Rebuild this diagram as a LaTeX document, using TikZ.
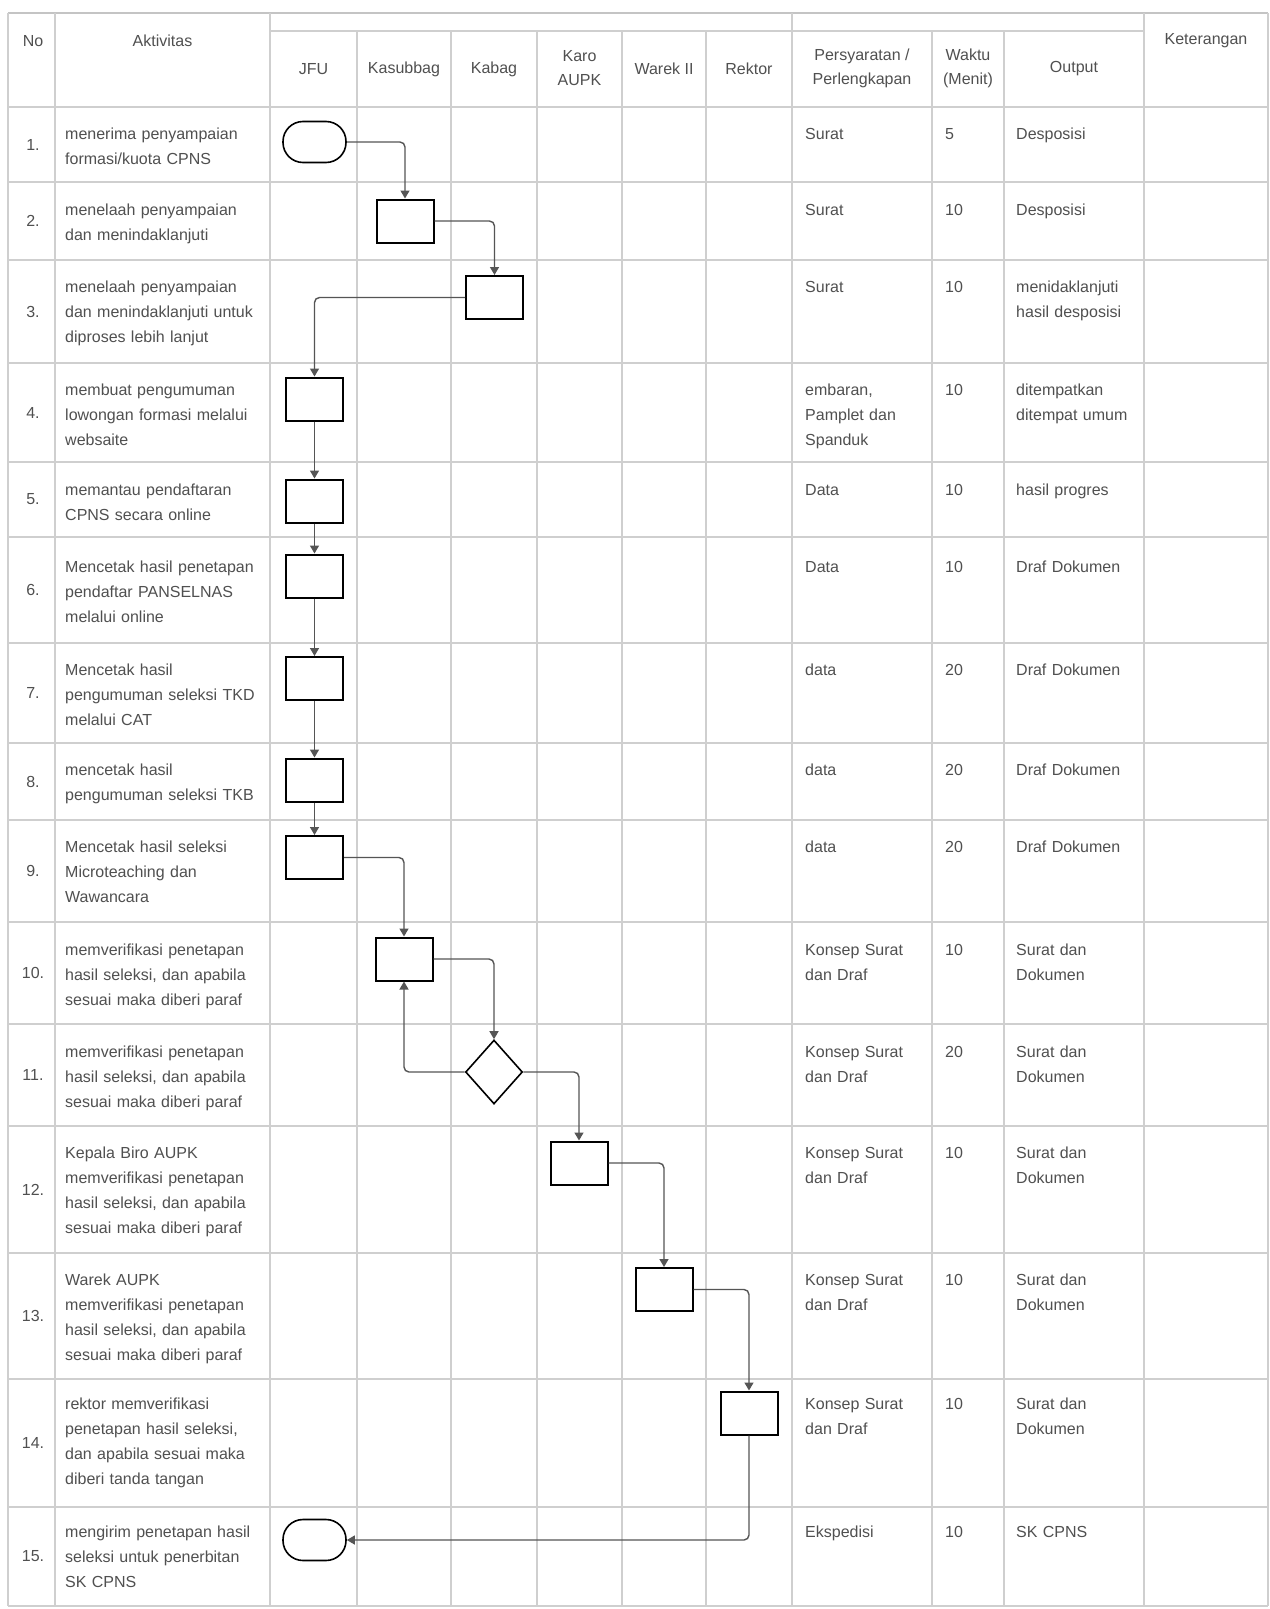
\documentclass[tikz,border=0pt]{standalone}
\usepackage{fontspec}
\setmainfont{Liberation Sans}
\usetikzlibrary{shapes.geometric,arrows.meta}
\definecolor{gridc}{HTML}{CFCFCF}
\definecolor{topc}{HTML}{C4C4C4}
\definecolor{txt}{HTML}{505050}
\definecolor{conn}{HTML}{555555}
\begin{document}
\begin{tikzpicture}[x=1pt,y=-1pt,
  grid/.style={draw=gridc,line width=1.1pt},
  body/.style={anchor=base west,inner sep=0pt,text width=300pt,align=left,font=\fontsize{16}{25}\selectfont,text=txt},
  num/.style={anchor=center,inner sep=0pt,font=\fontsize{16}{25}\selectfont,text=txt},
  head/.style={anchor=center,inner sep=0pt,align=center,font=\fontsize{16}{24}\selectfont,text=txt},
  proc/.style={draw=black,line width=2pt,minimum width=57pt,minimum height=43pt,inner sep=0pt},
  term/.style={draw=black,line width=1.6pt,rounded corners=20pt,minimum width=63pt,minimum height=41pt,inner sep=0pt},
  dec/.style={draw=black,line width=1.6pt,diamond,minimum width=57pt,minimum height=64pt,inner sep=0pt},
  flow/.style={draw=conn,line width=1.4pt,rounded corners=5pt,-{Triangle[length=8pt,width=9pt]}}
]
\fill[white] (0,0) rectangle (1269,1609);
\useasboundingbox (0,0) rectangle (1269,1609);

% ---------- grid ----------
\draw[draw=topc,line width=2.6pt] (8,13) -- (1268,13);
\draw[grid] (270,31) -- (1144,31);
\foreach \yy in {107,182,260,363,462,537,643,743,820,922,1024,1126,1253,1379,1507,1606}
  \draw[grid] (8,\yy) -- (1268,\yy);
\foreach \xx in {8,55,270,792,1144,1268}
  \draw[grid] (\xx,13) -- (\xx,1606);
\foreach \xx in {357,451,537,622,706,932,1004}
  \draw[grid] (\xx,31) -- (\xx,1606);

% ---------- header ----------
\node[head] (hNo) at (33,41) {No};
\node[head] (hAkt) at (162.5,41) {Aktivitas};
\node[head] (hJFU) at (313.5,69) {JFU};
\node[head] (hKasubbag) at (404,69) {Kasubbag};
\node[head] (hKabag) at (494,69) {Kabag};
\node[head] (hKaro) at (579.5,68) {Karo\\AUPK};
\node[head] (hWarek) at (664,69) {Warek II};
\node[head] (hRektor) at (749,69) {Rektor};
\node[head] (hPers) at (862,68) {Persyaratan /\\Perlengkapan};
\node[head] (hWaktu) at (968,68) {Waktu\\(Menit)};
\node[head] (hOut) at (1074,69) {Output};
\node[head] (hKet) at (1206,41) {Keterangan};

% ---------- numbers ----------
\node[num] (n1) at (33,144.5) {1.};
\node[num] (n2) at (33,221) {2.};
\node[num] (n3) at (33,311.5) {3.};
\node[num] (n4) at (33,412.5) {4.};
\node[num] (n5) at (33,499.5) {5.};
\node[num] (n6) at (33,590) {6.};
\node[num] (n7) at (33,693) {7.};
\node[num] (n8) at (33,781.5) {8.};
\node[num] (n9) at (33,871) {9.};
\node[num] (n10) at (33,973) {10.};
\node[num] (n11) at (33,1075) {11.};
\node[num] (n12) at (33,1189.5) {12.};
\node[num] (n13) at (33,1316) {13.};
\node[num] (n14) at (33,1443) {14.};
\node[num] (n15) at (33,1556.5) {15.};

% ---------- aktivitas ----------
\node[body] (a1) at (65,139) {menerima penyampaian\\formasi/kuota CPNS};
\node[body] (a2) at (65,215) {menelaah penyampaian\\dan menindaklanjuti};
\node[body] (a3) at (65,292) {menelaah penyampaian\\dan menindaklanjuti untuk\\diproses lebih lanjut};
\node[body] (a4) at (65,395) {membuat pengumuman\\lowongan formasi melalui\\websaite};
\node[body] (a5) at (65,495) {memantau pendaftaran\\CPNS secara online};
\node[body] (a6) at (65,572) {Mencetak hasil penetapan\\pendaftar PANSELNAS\\melalui online};
\node[body] (a7) at (65,675) {Mencetak hasil\\pengumuman seleksi TKD\\melalui CAT};
\node[body] (a8) at (65,775) {mencetak hasil\\pengumuman seleksi TKB};
\node[body] (a9) at (65,852) {Mencetak hasil seleksi\\Microteaching dan\\Wawancara};
\node[body] (a10) at (65,955) {memverifikasi penetapan\\hasil seleksi, dan apabila\\sesuai maka diberi paraf};
\node[body] (a11) at (65,1057) {memverifikasi penetapan\\hasil seleksi, dan apabila\\sesuai maka diberi paraf};
\node[body] (a12) at (65,1158) {Kepala Biro AUPK\\memverifikasi penetapan\\hasil seleksi, dan apabila\\sesuai maka diberi paraf};
\node[body] (a13) at (65,1285) {Warek AUPK\\memverifikasi penetapan\\hasil seleksi, dan apabila\\sesuai maka diberi paraf};
\node[body] (a14) at (65,1409) {rektor memverifikasi\\penetapan hasil seleksi,\\dan apabila sesuai maka\\diberi tanda tangan};
\node[body] (a15) at (65,1537) {mengirim penetapan hasil\\seleksi untuk penerbitan\\SK CPNS};

% ---------- persyaratan ----------
\node[body] (p1) at (805,139) {Surat};
\node[body] (p2) at (805,215) {Surat};
\node[body] (p3) at (805,292) {Surat};
\node[body] (p4) at (805,395) {embaran,\\Pamplet dan\\Spanduk};
\node[body] (p5) at (805,495) {Data};
\node[body] (p6) at (805,572) {Data};
\node[body] (p7) at (805,675) {data};
\node[body] (p8) at (805,775) {data};
\node[body] (p9) at (805,852) {data};
\node[body] (p10) at (805,955) {Konsep Surat\\dan Draf};
\node[body] (p11) at (805,1057) {Konsep Surat\\dan Draf};
\node[body] (p12) at (805,1158) {Konsep Surat\\dan Draf};
\node[body] (p13) at (805,1285) {Konsep Surat\\dan Draf};
\node[body] (p14) at (805,1409) {Konsep Surat\\dan Draf};
\node[body] (p15) at (805,1537) {Ekspedisi};

% ---------- waktu ----------
\node[body] (w1) at (945,139) {5};
\node[body] (w2) at (945,215) {10};
\node[body] (w3) at (945,292) {10};
\node[body] (w4) at (945,395) {10};
\node[body] (w5) at (945,495) {10};
\node[body] (w6) at (945,572) {10};
\node[body] (w7) at (945,675) {20};
\node[body] (w8) at (945,775) {20};
\node[body] (w9) at (945,852) {20};
\node[body] (w10) at (945,955) {10};
\node[body] (w11) at (945,1057) {20};
\node[body] (w12) at (945,1158) {10};
\node[body] (w13) at (945,1285) {10};
\node[body] (w14) at (945,1409) {10};
\node[body] (w15) at (945,1537) {10};

% ---------- output ----------
\node[body] (o1) at (1016,139) {Desposisi};
\node[body] (o2) at (1016,215) {Desposisi};
\node[body] (o3) at (1016,292) {menidaklanjuti\\hasil desposisi};
\node[body] (o4) at (1016,395) {ditempatkan\\ditempat umum};
\node[body] (o5) at (1016,495) {hasil progres};
\node[body] (o6) at (1016,572) {Draf Dokumen};
\node[body] (o7) at (1016,675) {Draf Dokumen};
\node[body] (o8) at (1016,775) {Draf Dokumen};
\node[body] (o9) at (1016,852) {Draf Dokumen};
\node[body] (o10) at (1016,955) {Surat dan\\Dokumen};
\node[body] (o11) at (1016,1057) {Surat dan\\Dokumen};
\node[body] (o12) at (1016,1158) {Surat dan\\Dokumen};
\node[body] (o13) at (1016,1285) {Surat dan\\Dokumen};
\node[body] (o14) at (1016,1409) {Surat dan\\Dokumen};
\node[body] (o15) at (1016,1537) {SK CPNS};

% ---------- flow shapes ----------
\node[term] (t1) at (314.5,142) {};
\node[proc] (b2) at (405,221) {};
\node[proc] (b3) at (494.5,297.5) {};
\node[proc] (b4) at (314.5,399) {};
\node[proc] (b5) at (314.5,501) {};
\node[proc] (b6) at (314.5,576) {};
\node[proc] (b7) at (314.5,678.5) {};
\node[proc] (b8) at (314.5,780) {};
\node[proc] (b9) at (314.5,857.5) {};
\node[proc] (b10) at (404,959) {};
\node[dec] (d11) at (494,1072) {};
\node[proc] (b12) at (579,1163) {};
\node[proc] (b13) at (664,1289.5) {};
\node[proc] (b14) at (749,1413) {};
\node[term] (t15) at (314.5,1540) {};

% ---------- connectors ----------
\draw[flow] (t1.east) -| (b2.north);
\draw[flow] (b2.east) -| (b3.north);
\draw[flow] (b3.west) -| (b4.north);
\draw[flow] (b4.south) -- (b5.north);
\draw[flow] (b5.south) -- (b6.north);
\draw[flow] (b6.south) -- (b7.north);
\draw[flow] (b7.south) -- (b8.north);
\draw[flow] (b8.south) -- (b9.north);
\draw[flow] (b9.east) -| (b10.north);
\draw[flow] (b10.east) -| (d11.north);
\draw[flow] (d11.west) -| (b10.south);
\draw[flow] (d11.east) -| (b12.north);
\draw[flow] (b12.east) -| (b13.north);
\draw[flow] (b13.east) -| (b14.north);
\draw[flow] (b14.south) |- (t15.east);
\end{tikzpicture}
\end{document}
